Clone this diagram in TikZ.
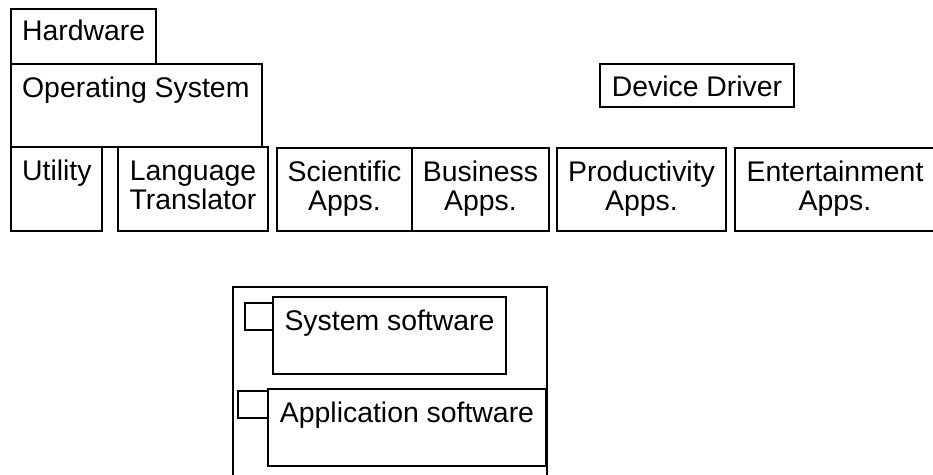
\documentclass[tikz,border=0pt]{standalone}
\usepackage{fontspec}
\setmainfont{Liberation Sans}
\newcommand\mybox[5]{\node[box, minimum width={(#4-#2)*1pt}, minimum height={(#5-#3)*1pt}] (#1) at (#2,#3) {};}
\begin{document}
\begin{tikzpicture}[x=1pt,y=-1pt,line width=1.3pt,
  box/.style={draw, rectangle, inner sep=0pt, outer sep=0pt, anchor=north west},
  txt/.style={inner sep=0pt, font=\fontsize{28.4}{29}\selectfont, align=center}]
\useasboundingbox (0,0) rectangle (933,474);
\clip (0,0) rectangle (933,474);
% boxes
\mybox{hw}{11}{9}{156}{64}
\mybox{os}{11}{64}{262}{147}
\mybox{util}{11}{147}{102}{231}
\mybox{lang}{118}{147}{268}{231}
\mybox{sci}{277}{148}{412}{231}
\mybox{bus}{412}{148}{549}{231}
\mybox{prod}{557}{148}{726}{231}
\mybox{ent}{735}{148}{935}{231}
\mybox{dd}{600}{64}{794}{107}
\mybox{legend}{233}{287}{547}{490}
\mybox{sqa}{245}{303}{273}{330}
\mybox{ss}{273}{297}{506}{374}
\mybox{sqb}{238}{391}{268}{418}
\mybox{as}{268}{389}{546}{466}
% texts
\node[txt, anchor=base west] (hwt) at ([xshift=10.5pt,yshift=-31pt]hw.north west) {Hardware};
\node[txt, anchor=base west] (ost) at ([xshift=10.5pt,yshift=-33pt]os.north west) {Operating System};
\node[txt, anchor=base west] (utilt) at ([xshift=10.5pt,yshift=-33pt]util.north west) {Utility};
\node[txt, anchor=base] (langt) at ([yshift=-62pt]lang.north) {Language\\Translator};
\node[txt, anchor=base] (scit) at ([yshift=-62pt]sci.north) {Scientific\\Apps.};
\node[txt, anchor=base] (bust) at ([yshift=-62pt]bus.north) {Business\\Apps.};
\node[txt, anchor=base] (prodt) at ([yshift=-62pt]prod.north) {Productivity\\Apps.};
\node[txt, anchor=base] (entt) at ([yshift=-62pt]ent.north) {Entertainment\\Apps.};
\node[txt, anchor=base] (ddt) at ([yshift=-32pt]dd.north) {Device Driver};
\node[txt, anchor=base] (sst) at ([yshift=-33pt]ss.north) {System software};
\node[txt, anchor=base] (ast) at ([yshift=-33pt]as.north) {Application software};
\end{tikzpicture}
\end{document}
